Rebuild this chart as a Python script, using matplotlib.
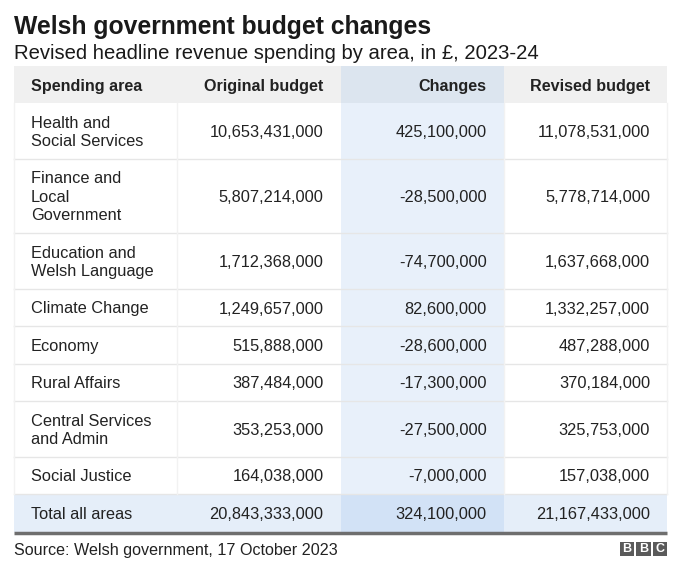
import matplotlib.pyplot as plt
from matplotlib.patches import Rectangle

plt.rcParams['font.family'] = ['Liberation Sans', 'DejaVu Sans']

title = "Welsh government budget changes"
subtitle = "Revised headline revenue spending by area, in £, 2023-24"
source = "Source: Welsh government, 17 October 2023"

headers = ["Spending area", "Original budget", "Changes", "Revised budget"]
areas = ["Health and\nSocial Services", "Finance and\nLocal\nGovernment",
         "Education and\nWelsh Language", "Climate Change", "Economy",
         "Rural Affairs", "Central Services\nand Admin", "Social Justice"]
original = [10653431000, 5807214000, 1712368000, 1249657000, 515888000,
            387484000, 353253000, 164038000]
changes = [425100000, -28500000, -74700000, 82600000, -28600000,
           -17300000, -27500000, -7000000]
revised = [11078531000, 5778714000, 1637668000, 1332257000, 487288000,
           370184000, 325753000, 157038000]
total_label = "Total all areas"
total_original = 20843333000
total_changes = 324100000
total_revised = 21167433000

W, H = 680, 581
fig = plt.figure(figsize=(W / 100, H / 100), dpi=100)
ax = fig.add_axes([0, 0, 1, 1])
ax.set_xlim(0, W)
ax.set_ylim(H, 0)
ax.axis("off")

left, right = 14, 667
col_w = (right - left) / 4
cols = [left + i * col_w for i in range(5)]
pad = 17
head_top, head_h = 66, 37
dy = 1.5  # nudge text down a bit, va=center includes descenders


def row_height(text):
    return 19 + 18.4 * (text.count("\n") + 1)


fs_body = 11.8
grey_line = "#e6e6e6"
blue_col = "#e8f0fa"

# titles
ax.text(left, 34, title, fontsize=17.8, fontweight="bold", color="#1a1a1a", va="baseline")
ax.text(left, 59, subtitle, fontsize=14.6, color="#1a1a1a", va="baseline")

# header row
ax.add_patch(Rectangle((left, head_top), right - left, head_h, facecolor="#f0f0f0", lw=0))
ax.add_patch(Rectangle((cols[2], head_top), col_w, head_h, facecolor="#dce5ef", lw=0))
hy = head_top + head_h / 2 + dy
ax.text(cols[0] + pad, hy, headers[0], fontsize=11.6, fontweight="bold", ha="left", va="center", color="#222")
for i in range(1, 4):
    ax.text(cols[i + 1] - pad, hy, headers[i], fontsize=11.6, fontweight="bold",
            ha="right", va="center", color="#222")

# body rows
y = head_top + head_h
for a, o, c, r in zip(areas, original, changes, revised):
    h = row_height(a)
    ax.add_patch(Rectangle((cols[2], y), col_w, h, facecolor=blue_col, lw=0))
    cy = y + h / 2 + dy
    ax.text(cols[0] + pad, cy, a, fontsize=fs_body, ha="left", va="center",
            color="#222", linespacing=1.3)
    for i, v in enumerate([o, c, r]):
        ax.text(cols[i + 2] - pad, cy, f"{v:,}", fontsize=fs_body, ha="right",
                va="center", color="#222")
    ax.plot([left, right], [y + h, y + h], color=grey_line, lw=1)
    for x in [cols[0], cols[1], cols[3], cols[4]]:
        ax.plot([x, x], [y, y + h], color="#f2f2f2", lw=1)
    y += h

# total row
th = row_height(total_label)
ax.add_patch(Rectangle((left, y), right - left, th, facecolor="#e5eef9", lw=0))
ax.add_patch(Rectangle((cols[2], y), col_w, th, facecolor="#d2e2f6", lw=0))
cy = y + th / 2 + dy
ax.text(cols[0] + pad, cy, total_label, fontsize=fs_body, ha="left", va="center", color="#222")
for i, v in enumerate([total_original, total_changes, total_revised]):
    ax.text(cols[i + 2] - pad, cy, f"{v:,}", fontsize=fs_body, ha="right", va="center", color="#222")
y += th
ax.plot([left, right], [y + 1, y + 1], color="#6e6e6e", lw=2.5, solid_capstyle="butt")

# footer
ax.text(left, y + 23, source, fontsize=11.6, color="#222", va="baseline")
sq, gap = 14.5, 2
bx = right - 3 * sq - 2 * gap
for i, letter in enumerate("BBC"):
    x0 = bx + i * (sq + gap)
    ax.add_patch(Rectangle((x0, y + 10), sq, sq, facecolor="#5a5a5a", lw=0))
    ax.text(x0 + sq / 2, y + 10 + sq / 2 + 0.5, letter, fontsize=9, fontweight="bold",
            color="white", ha="center", va="center")

fig.savefig("out.png", dpi=100)
